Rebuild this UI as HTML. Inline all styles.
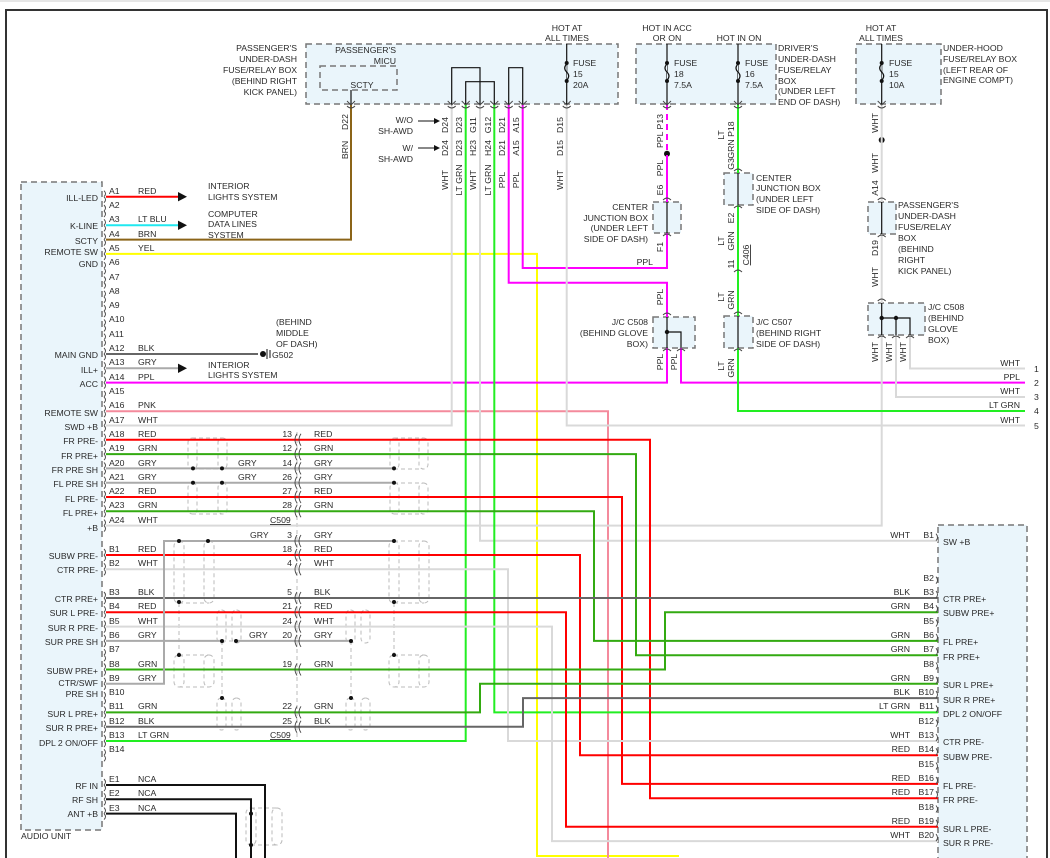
<!DOCTYPE html>
<html><head><meta charset="utf-8"><style>
html,body{margin:0;padding:0;background:#fff;}
svg{display:block;}
text{font-family:"Liberation Sans",Arial,sans-serif;font-size:8.7px;fill:#2a2a2a;}
.e{text-anchor:end}.m{text-anchor:middle}
.w{fill:none;stroke-width:2;stroke-linejoin:miter}
.box{fill:#eaf5fb;stroke:#777;stroke-width:1.5;stroke-dasharray:6,4}
.sh{fill:none;stroke:#bbb;stroke-width:1;stroke-dasharray:4,3}
.blk{stroke:#111;fill:none;stroke-width:1.2}
</style></head><body>
<svg width="1050" height="858" viewBox="0 0 1050 858" xmlns="http://www.w3.org/2000/svg">
<line x1="0" y1="1" x2="1050" y2="1" stroke="#ccc"/>
<path d="M6,858 V10 H1047 V858" fill="none" stroke="#333" stroke-width="2"/>

<rect class="box" x="21" y="182" width="81" height="648"/>
<rect class="box" x="938" y="525" width="89" height="345"/>
<rect class="box" x="306" y="44" width="312" height="60"/>
<rect class="box" x="320" y="66" width="77" height="24"/>
<rect class="box" x="636" y="44" width="140" height="60"/>
<rect class="box" x="856" y="44" width="85" height="60"/>
<rect class="box" x="653" y="202" width="28" height="31"/>
<rect class="box" x="724" y="173" width="29" height="32"/>
<rect class="box" x="724" y="316" width="29" height="32"/>
<rect class="box" x="653" y="317" width="42" height="31"/>
<rect class="box" x="868" y="202" width="28" height="32"/>
<rect class="box" x="868" y="303" width="57" height="32"/>

<g class="blk">
<path d="M451.7,104 V67.7 H480 V104"/>
<path d="M465.7,104 V81.7 H494.3 V104"/>
<path d="M508.7,104 V67.7 H522.7 V104"/>
<path d="M351,90 V104"/>
<path d="M566.7,44 V104"/><path d="M667,44 V104"/><path d="M738,44 V104"/><path d="M881.7,44 V104"/>
<path d="M738,173 V205"/><path d="M667,202 V233"/><path d="M738,316 V348"/><path d="M881.7,202 V234"/>
<path d="M667,317 V348 M667,332 H681 V348"/>
<path d="M881.7,303 V335 M881.7,318 H910 V335 M896,318 V335"/>
</g>
<g fill="#111">
<circle cx="667" cy="332" r="2.2"/><circle cx="881.7" cy="318" r="2.2"/><circle cx="896" cy="318" r="2.2"/>
<circle cx="667" cy="153.7" r="3"/><circle cx="881.7" cy="140" r="3"/>
</g>
<g fill="#eaf5fb" stroke="#111" stroke-width="1.2">
<path d="M566.7,64 q-4,4 0,8 q4,4 0,8" /><path d="M667,64 q-4,4 0,8 q4,4 0,8"/><path d="M738,64 q-4,4 0,8 q4,4 0,8"/><path d="M881.7,64 q-4,4 0,8 q4,4 0,8"/>
</g>
<g fill="#111"><circle cx="566.7" cy="63" r="2"/><circle cx="566.7" cy="81" r="2"/><circle cx="667" cy="63" r="2"/><circle cx="667" cy="81" r="2"/><circle cx="738" cy="63" r="2"/><circle cx="738" cy="81" r="2"/><circle cx="881.7" cy="63" r="2"/><circle cx="881.7" cy="81" r="2"/></g>

<g class="sh">
<rect x="188" y="438" width="9" height="31" rx="4.5"/><rect x="218" y="438" width="9" height="31" rx="4.5"/><path d="M192,438 H222 M192,469 H222"/>
<rect x="390" y="438" width="9" height="31" rx="4.5"/><rect x="419" y="438" width="9" height="31" rx="4.5"/><path d="M394,438 H423 M394,469 H423"/>
<rect x="188" y="483" width="9" height="31" rx="4.5"/><rect x="218" y="483" width="9" height="31" rx="4.5"/><path d="M192,483 H222 M192,514 H222"/>
<rect x="390" y="483" width="9" height="31" rx="4.5"/><rect x="419" y="483" width="9" height="31" rx="4.5"/><path d="M394,483 H423 M394,514 H423"/>
<rect x="174" y="541" width="10" height="62" rx="5"/><rect x="204" y="541" width="10" height="62" rx="5"/><path d="M179,541 H209 M179,603 H209"/>
<rect x="389" y="541" width="10" height="62" rx="5"/><rect x="419" y="541" width="10" height="62" rx="5"/><path d="M394,541 H424 M394,603 H424"/>
<rect x="217" y="610" width="9" height="33" rx="4.5"/><rect x="232" y="610" width="9" height="33" rx="4.5"/>
<rect x="346" y="610" width="9" height="33" rx="4.5"/><rect x="361" y="610" width="9" height="33" rx="4.5"/>
<rect x="174" y="655" width="10" height="32" rx="5"/><rect x="204" y="655" width="10" height="32" rx="5"/><path d="M179,655 H209 M179,687 H209"/>
<rect x="389" y="655" width="10" height="32" rx="5"/><rect x="419" y="655" width="10" height="32" rx="5"/><path d="M394,655 H424 M394,687 H424"/>
<rect x="217" y="698" width="9" height="32" rx="4.5"/><rect x="232" y="698" width="9" height="32" rx="4.5"/>
<rect x="346" y="698" width="9" height="32" rx="4.5"/><rect x="361" y="698" width="9" height="32" rx="4.5"/>
<rect x="246" y="808" width="10" height="37" rx="5"/><rect x="272" y="808" width="10" height="37" rx="5"/><path d="M251,808 H277 M251,845 H277"/>
<path d="M297,432 V742 M179,603 V655 M222,641 V698 M394,603 V655 M351,641 V698 M193,469 H222 M193,483 H222 M208,541 H179 M222,641 H236"/>
</g>

<g class="w">
<path stroke="#ff0000" d="M106,196.7 H180"/>
<path stroke="#20e8f0" d="M106,225.3 H180"/>
<path stroke="#8b6418" d="M106,239.6 H351 V104"/>
<path stroke="#ffff00" d="M106,253.9 H537 V856 H679"/>
<path stroke="#666" d="M106,354 H258"/>
<path stroke="#aaa" d="M106,368.3 H180"/>
<path stroke="#ff00ff" d="M106,382.6 H667 V348"/>
<path stroke="#ff00ff" d="M681,348 V382.6 H1025"/>
<path stroke="#ff00ff" d="M508.7,104 V282.7 H667 V317"/>
<path stroke="#ff00ff" d="M522.7,104 V268 H667 V233"/>
<path stroke="#ff00ff" d="M667,155 V202"/>
<path stroke="#ff00ff" stroke-dasharray="6,4" d="M667,104 V153"/>
<path stroke="#f48a9c" d="M106,411.2 H608 V858"/>
<path stroke="#d9d9d9" d="M451.7,104 V425.5 H106"/>
<path stroke="#d9d9d9" d="M566.7,104 V425.5 H1025"/>
<path stroke="#d9d9d9" d="M480,104 V540.7 H938"/>
<path stroke="#d9d9d9" d="M106,525.6 H881.7 V335"/>
<path stroke="#d9d9d9" d="M881.7,104 V202 M881.7,234 V303"/>
<path stroke="#d9d9d9" d="M896,335 V397 H1025"/>
<path stroke="#d9d9d9" d="M910,335 V368.5 H1025"/>
<path stroke="#22ee22" d="M465.7,104 V741 H106"/>
<path stroke="#22ee22" d="M494.3,104 V712.4 H938"/>
<path stroke="#22ee22" d="M738,104 V173 M738,205 V316 M738,348 V411 H1025"/>
<path stroke="#ff0000" d="M106,439.8 H650 V798.2 H938"/>
<path stroke="#33aa11" d="M106,454.1 H636 V655.2 H938"/>
<path stroke="#aaa" d="M106,468.4 H394 M106,482.7 H394"/>
<path stroke="#ff0000" d="M106,497 H622 V783.9 H938"/>
<path stroke="#33aa11" d="M106,511.3 H594 V640.9 H938"/>
<path stroke="#ff0000" d="M106,555 H580 V755.3 H938"/>
<path stroke="#d9d9d9" d="M106,569.3 H508 V741 H938"/>
<path stroke="#666" d="M106,598 H938"/>
<path stroke="#ff0000" d="M106,612.3 H566 V826.8 H938"/>
<path stroke="#d9d9d9" d="M106,626.6 H552 V841.1 H938"/>
<path stroke="#aaa" d="M106,640.9 H222 M236,640.9 H351"/>
<path stroke="#33aa11" d="M106,669.5 H665 V612.3 H938"/>
<path stroke="#aaa" d="M106,683.8 H164 V541 H394"/>
<path stroke="#33aa11" d="M106,712.4 H480 V683.8 H938"/>
<path stroke="#666" d="M106,726.7 H523 V698.1 H938"/>
<path stroke="#111" d="M106,785 H265 V858 M106,799.3 H251 V858 M106,813.6 H236 V858"/>
</g>
<g fill="#111">
<path d="M178,192 L187,196.7 L178,201.4Z"/><path d="M178,220.6 L187,225.3 L178,230Z"/><path d="M178,363.6 L187,368.3 L178,373Z"/>
<circle cx="263" cy="354" r="3"/>
<circle cx="193" cy="468.4" r="2"/><circle cx="222" cy="468.4" r="2"/><circle cx="193" cy="482.7" r="2"/><circle cx="222" cy="482.7" r="2"/>
<circle cx="394" cy="468.4" r="2"/><circle cx="394" cy="482.7" r="2"/>
<circle cx="179" cy="541" r="2"/><circle cx="208" cy="541" r="2"/><circle cx="394" cy="541" r="2"/>
<circle cx="179" cy="602" r="2"/><circle cx="394" cy="602" r="2"/>
<circle cx="222" cy="641" r="2"/><circle cx="236" cy="641" r="2"/><circle cx="351" cy="641" r="2"/>
<circle cx="179" cy="655" r="2"/><circle cx="394" cy="655" r="2"/>
<circle cx="222" cy="698" r="2"/><circle cx="351" cy="698" r="2"/>
<circle cx="251" cy="813.6" r="2"/><circle cx="251" cy="845" r="2"/>
<path d="M418,121 L437,121 M418,148 L437,148" stroke="#111"/>
<path d="M434,118 L440,121 L434,124Z M434,145 L440,148 L434,151Z"/>
</g>
<path d="M267,349 V359 M270,350 V358" stroke="#111" stroke-width="1"/>
<g id="arcs" fill="none" stroke="#444" stroke-width="0.9"></g>

<g class="e">
<text x="98" y="201">ILL-LED</text><text x="98" y="229">K-LINE</text><text x="98" y="244">SCTY</text><text x="98" y="255">REMOTE SW</text><text x="98" y="267">GND</text>
<text x="98" y="358">MAIN GND</text><text x="98" y="373">ILL+</text><text x="98" y="387">ACC</text><text x="98" y="416">REMOTE SW</text><text x="98" y="430">SWD +B</text>
<text x="98" y="444">FR PRE-</text><text x="98" y="459">FR PRE+</text><text x="98" y="473">FR PRE SH</text><text x="98" y="487">FL PRE SH</text><text x="98" y="502">FL PRE-</text><text x="98" y="516">FL PRE+</text><text x="98" y="531">+B</text>
<text x="98" y="559">SUBW PRE-</text><text x="98" y="573">CTR PRE-</text><text x="98" y="602">CTR PRE+</text><text x="98" y="616">SUR L PRE-</text><text x="98" y="631">SUR R PRE-</text><text x="98" y="645">SUR PRE SH</text>
<text x="98" y="674">SUBW PRE+</text><text x="98" y="686">CTR/SWF</text><text x="98" y="697">PRE SH</text><text x="98" y="717">SUR L PRE+</text><text x="98" y="731">SUR R PRE+</text><text x="98" y="746">DPL 2 ON/OFF</text>
<text x="98" y="789">RF IN</text><text x="98" y="803">RF SH</text><text x="98" y="817">ANT +B</text>
</g>
<text x="21" y="839">AUDIO UNIT</text>
<g>
<text x="109" y="194">A1</text><text x="138" y="194">RED</text>
<text x="109" y="208">A2</text>
<text x="109" y="222">A3</text><text x="138" y="222">LT BLU</text>
<text x="109" y="237">A4</text><text x="138" y="237">BRN</text>
<text x="109" y="251">A5</text><text x="138" y="251">YEL</text>
<text x="109" y="265">A6</text><text x="109" y="280">A7</text><text x="109" y="294">A8</text><text x="109" y="308">A9</text><text x="109" y="322">A10</text><text x="109" y="337">A11</text>
<text x="109" y="351">A12</text><text x="138" y="351">BLK</text>
<text x="109" y="365">A13</text><text x="138" y="365">GRY</text>
<text x="109" y="380">A14</text><text x="138" y="380">PPL</text>
<text x="109" y="394">A15</text>
<text x="109" y="408">A16</text><text x="138" y="408">PNK</text>
<text x="109" y="423">A17</text><text x="138" y="423">WHT</text>
<text x="109" y="437">A18</text><text x="138" y="437">RED</text>
<text x="109" y="451">A19</text><text x="138" y="451">GRN</text>
<text x="109" y="466">A20</text><text x="138" y="466">GRY</text>
<text x="109" y="480">A21</text><text x="138" y="480">GRY</text>
<text x="109" y="494">A22</text><text x="138" y="494">RED</text>
<text x="109" y="508">A23</text><text x="138" y="508">GRN</text>
<text x="109" y="523">A24</text><text x="138" y="523">WHT</text>
<text x="109" y="552">B1</text><text x="138" y="552">RED</text>
<text x="109" y="566">B2</text><text x="138" y="566">WHT</text>
<text x="109" y="595">B3</text><text x="138" y="595">BLK</text>
<text x="109" y="609">B4</text><text x="138" y="609">RED</text>
<text x="109" y="624">B5</text><text x="138" y="624">WHT</text>
<text x="109" y="638">B6</text><text x="138" y="638">GRY</text>
<text x="109" y="652">B7</text>
<text x="109" y="667">B8</text><text x="138" y="667">GRN</text>
<text x="109" y="681">B9</text><text x="138" y="681">GRY</text>
<text x="109" y="695">B10</text>
<text x="109" y="709">B11</text><text x="138" y="709">GRN</text>
<text x="109" y="724">B12</text><text x="138" y="724">BLK</text>
<text x="109" y="738">B13</text><text x="138" y="738">LT GRN</text>
<text x="109" y="752">B14</text>
<text x="109" y="782">E1</text><text x="138" y="782">NCA</text>
<text x="109" y="796">E2</text><text x="138" y="796">NCA</text>
<text x="109" y="811">E3</text><text x="138" y="811">NCA</text>
</g>
<text x="208" y="189">INTERIOR</text><text x="208" y="200">LIGHTS SYSTEM</text>
<text x="208" y="217">COMPUTER</text><text x="208" y="227">DATA LINES</text><text x="208" y="238">SYSTEM</text>
<text x="208" y="368">INTERIOR</text><text x="208" y="378">LIGHTS SYSTEM</text>
<text x="276" y="325">(BEHIND</text><text x="276" y="336">MIDDLE</text><text x="276" y="347">OF DASH)</text><text x="272" y="358">G502</text>

<g class="e">
<text x="292" y="437">13</text><text x="292" y="451">12</text><text x="292" y="466">14</text><text x="292" y="480">26</text><text x="292" y="494">27</text><text x="292" y="508">28</text>
<text x="292" y="538">3</text><text x="292" y="552">18</text><text x="292" y="566">4</text><text x="292" y="595">5</text><text x="292" y="609">21</text><text x="292" y="624">24</text><text x="292" y="638">20</text><text x="292" y="667">19</text><text x="292" y="709">22</text><text x="292" y="724">25</text>
</g>
<text x="270" y="523" text-decoration="underline">C509</text><text x="270" y="738" text-decoration="underline">C509</text>
<text x="238" y="466">GRY</text><text x="238" y="480">GRY</text><text x="250" y="538">GRY</text><text x="249" y="638">GRY</text>
<g>
<text x="314" y="437">RED</text><text x="314" y="451">GRN</text><text x="314" y="466">GRY</text><text x="314" y="480">GRY</text><text x="314" y="494">RED</text><text x="314" y="508">GRN</text>
<text x="314" y="538">GRY</text><text x="314" y="552">RED</text><text x="314" y="566">WHT</text><text x="314" y="595">BLK</text><text x="314" y="609">RED</text><text x="314" y="624">WHT</text><text x="314" y="638">GRY</text><text x="314" y="667">GRN</text><text x="314" y="709">GRN</text><text x="314" y="724">BLK</text>
</g>

<g>
<text x="943" y="545">SW +B</text><text x="943" y="602">CTR PRE+</text><text x="943" y="616">SUBW PRE+</text><text x="943" y="645">FL PRE+</text><text x="943" y="660">FR PRE+</text>
<text x="943" y="688">SUR L PRE+</text><text x="943" y="703">SUR R PRE+</text><text x="943" y="717">DPL 2 ON/OFF</text><text x="943" y="745">CTR PRE-</text><text x="943" y="760">SUBW PRE-</text>
<text x="943" y="789">FL PRE-</text><text x="943" y="803">FR PRE-</text><text x="943" y="832">SUR L PRE-</text><text x="943" y="846">SUR R PRE-</text>
</g>
<g class="e">
<text x="934" y="538">B1</text><text x="934" y="581">B2</text><text x="934" y="595">B3</text><text x="934" y="609">B4</text><text x="934" y="624">B5</text><text x="934" y="638">B6</text><text x="934" y="652">B7</text><text x="934" y="667">B8</text><text x="934" y="681">B9</text><text x="934" y="695">B10</text><text x="934" y="709">B11</text><text x="934" y="724">B12</text><text x="934" y="738">B13</text><text x="934" y="752">B14</text><text x="934" y="767">B15</text><text x="934" y="781">B16</text><text x="934" y="795">B17</text><text x="934" y="810">B18</text><text x="934" y="824">B19</text><text x="934" y="838">B20</text>
<text x="910" y="538">WHT</text><text x="910" y="595">BLK</text><text x="910" y="609">GRN</text><text x="910" y="638">GRN</text><text x="910" y="652">GRN</text><text x="910" y="681">GRN</text><text x="910" y="695">BLK</text><text x="910" y="709">LT GRN</text><text x="910" y="738">WHT</text><text x="910" y="752">RED</text><text x="910" y="781">RED</text><text x="910" y="795">RED</text><text x="910" y="824">RED</text><text x="910" y="838">WHT</text>
<text x="1020" y="366">WHT</text><text x="1020" y="380">PPL</text><text x="1020" y="394">WHT</text><text x="1020" y="408">LT GRN</text><text x="1020" y="423">WHT</text>
</g>
<text x="1034" y="372">1</text><text x="1034" y="386">2</text><text x="1034" y="400">3</text><text x="1034" y="414">4</text><text x="1034" y="429">5</text>

<g class="e">
<text x="297" y="51">PASSENGER'S</text><text x="297" y="62">UNDER-DASH</text><text x="297" y="73">FUSE/RELAY BOX</text><text x="297" y="84">(BEHIND RIGHT</text><text x="297" y="95">KICK PANEL)</text>
<text x="396" y="53">PASSENGER'S</text><text x="396" y="64">MICU</text>
<text x="413" y="123">W/O</text><text x="413" y="134">SH-AWD</text><text x="413" y="151">W/</text><text x="413" y="162">SH-AWD</text>
<text x="648" y="210">CENTER</text><text x="648" y="221">JUNCTION BOX</text><text x="648" y="231">(UNDER LEFT</text><text x="648" y="242">SIDE OF DASH)</text>
<text x="653" y="265">PPL</text>
<text x="648" y="325">J/C C508</text><text x="648" y="336">(BEHIND GLOVE</text><text x="648" y="347">BOX)</text>
</g>
<text x="362" y="88" class="m">SCTY</text>
<text class="m" x="567" y="31">HOT AT</text><text class="m" x="567" y="41">ALL TIMES</text>
<text x="573" y="66">FUSE</text><text x="573" y="77">15</text><text x="573" y="88">20A</text>
<text class="m" x="667" y="31">HOT IN ACC</text><text class="m" x="667" y="41">OR ON</text><text class="m" x="739" y="41">HOT IN ON</text>
<text x="674" y="66">FUSE</text><text x="674" y="77">18</text><text x="674" y="88">7.5A</text>
<text x="745" y="66">FUSE</text><text x="745" y="77">16</text><text x="745" y="88">7.5A</text>
<text x="778" y="51">DRIVER'S</text><text x="778" y="62">UNDER-DASH</text><text x="778" y="73">FUSE/RELAY</text><text x="778" y="84">BOX</text><text x="778" y="94">(UNDER LEFT</text><text x="778" y="105">END OF DASH)</text>
<text class="m" x="881" y="31">HOT AT</text><text class="m" x="881" y="41">ALL TIMES</text>
<text x="889" y="66">FUSE</text><text x="889" y="77">15</text><text x="889" y="88">10A</text>
<text x="943" y="51">UNDER-HOOD</text><text x="943" y="62">FUSE/RELAY BOX</text><text x="943" y="73">(LEFT REAR OF</text><text x="943" y="83">ENGINE COMPT)</text>
<text x="756" y="181">CENTER</text><text x="756" y="191">JUNCTION BOX</text><text x="756" y="202">(UNDER LEFT</text><text x="756" y="213">SIDE OF DASH)</text>
<text x="756" y="325">J/C C507</text><text x="756" y="336">(BEHIND RIGHT</text><text x="756" y="347">SIDE OF DASH)</text>
<text x="898" y="208">PASSENGER'S</text><text x="898" y="219">UNDER-DASH</text><text x="898" y="230">FUSE/RELAY</text><text x="898" y="241">BOX</text><text x="898" y="252">(BEHIND</text><text x="898" y="263">RIGHT</text><text x="898" y="274">KICK PANEL)</text>
<text x="928" y="310">J/C C508</text><text x="928" y="321">(BEHIND</text><text x="928" y="332">GLOVE</text><text x="928" y="343">BOX)</text>

<g class="m">
<text transform="translate(348,122) rotate(-90)">D22</text><text transform="translate(348,150) rotate(-90)">BRN</text>
<text transform="translate(448,125) rotate(-90)">D24</text><text transform="translate(462,125) rotate(-90)">D23</text><text transform="translate(476,125) rotate(-90)">G11</text><text transform="translate(491,125) rotate(-90)">G12</text><text transform="translate(505,125) rotate(-90)">D21</text><text transform="translate(519,125) rotate(-90)">A15</text>
<text transform="translate(448,148) rotate(-90)">D24</text><text transform="translate(462,148) rotate(-90)">D23</text><text transform="translate(476,148) rotate(-90)">H23</text><text transform="translate(491,148) rotate(-90)">H24</text><text transform="translate(505,148) rotate(-90)">D21</text><text transform="translate(519,148) rotate(-90)">A15</text>
<text transform="translate(448,180) rotate(-90)">WHT</text><text transform="translate(462,180) rotate(-90)">LT GRN</text><text transform="translate(476,180) rotate(-90)">WHT</text><text transform="translate(491,180) rotate(-90)">LT GRN</text><text transform="translate(505,180) rotate(-90)">PPL</text><text transform="translate(519,180) rotate(-90)">PPL</text>
<text transform="translate(563,125) rotate(-90)">D15</text><text transform="translate(563,148) rotate(-90)">D15</text><text transform="translate(563,180) rotate(-90)">WHT</text>
<text transform="translate(663,131) rotate(-90)">PPL P13</text><text transform="translate(663,168) rotate(-90)">PPL</text><text transform="translate(663,190) rotate(-90)">E6</text><text transform="translate(663,247) rotate(-90)">F1</text>
<text transform="translate(663,297) rotate(-90)">PPL</text><text transform="translate(663,362) rotate(-90)">PPL</text><text transform="translate(677,362) rotate(-90)">PPL</text>
<text transform="translate(724,135) rotate(-90)">LT</text><text transform="translate(734,140) rotate(-90)">GRN P18</text><text transform="translate(734,164) rotate(-90)">G3</text>
<text transform="translate(734,218) rotate(-90)">E2</text><text transform="translate(724,241) rotate(-90)">LT</text><text transform="translate(734,241) rotate(-90)">GRN</text><text transform="translate(734,264) rotate(-90)">11</text>
<text transform="translate(749,255) rotate(-90)" text-decoration="underline">C406</text>
<text transform="translate(724,297) rotate(-90)">LT</text><text transform="translate(734,300) rotate(-90)">GRN</text>
<text transform="translate(724,366) rotate(-90)">LT</text><text transform="translate(734,368) rotate(-90)">GRN</text>
<text transform="translate(878,123) rotate(-90)">WHT</text><text transform="translate(878,163) rotate(-90)">WHT</text><text transform="translate(878,188) rotate(-90)">A14</text><text transform="translate(878,248) rotate(-90)">D19</text><text transform="translate(878,277) rotate(-90)">WHT</text>
<text transform="translate(878,352) rotate(-90)">WHT</text><text transform="translate(892,352) rotate(-90)">WHT</text><text transform="translate(906,352) rotate(-90)">WHT</text>
</g>
<script>
(function(){var g=document.getElementById('arcs'),ns='http://www.w3.org/2000/svg',d='';
var L=[];for(var i=0;i<24;i++)L.push(196.7+14.3*i);
[555,569.3,598,612.3,626.6,640.9,655.2,669.5,683.8,698.1,712.4,726.7,741,755.3,785,799.3,813.6].forEach(function(y){L.push(y)});
L.forEach(function(y){d+='M104,'+(y-6)+' q3,3 0,6 M104,'+y+' q3,3 0,6 ';});
var R=[540.7];for(var n=2;n<=20;n++)R.push(583.7+14.3*(n-2));
R.forEach(function(y){d+='M936,'+(y-7)+' q3,3.5 0,7 ';});
[439.8,454.1,468.4,482.7,497,511.3,541,555,569.3,598,612.3,626.6,640.9,669.5,712.4,726.7].forEach(function(y){d+='M297,'+(y-6)+' q-4,6 0,12 M301,'+(y-6)+' q-4,6 0,12 ';});
var V=[351,451.7,465.7,480,494.3,508.7,522.7,566.7,667,738,881.7];
V.forEach(function(x){d+='M'+(x-4)+',106 q4,4 8,0 M'+(x-4)+',101 l4,4 l4,-4 ';});
[[667,200],[667,236],[738,171],[738,208],[738,272],[738,314],[738,351],[667,315],[667,351],[681,351],[881.7,200],[881.7,237],[881.7,301],[881.7,338],[896,338],[910,338]].forEach(function(p){d+='M'+(p[0]-4)+','+p[1]+' q4,-4 8,0 ';});
var p=document.createElementNS(ns,'path');p.setAttribute('d',d);g.appendChild(p);})();
</script>
</svg>
</body></html>
